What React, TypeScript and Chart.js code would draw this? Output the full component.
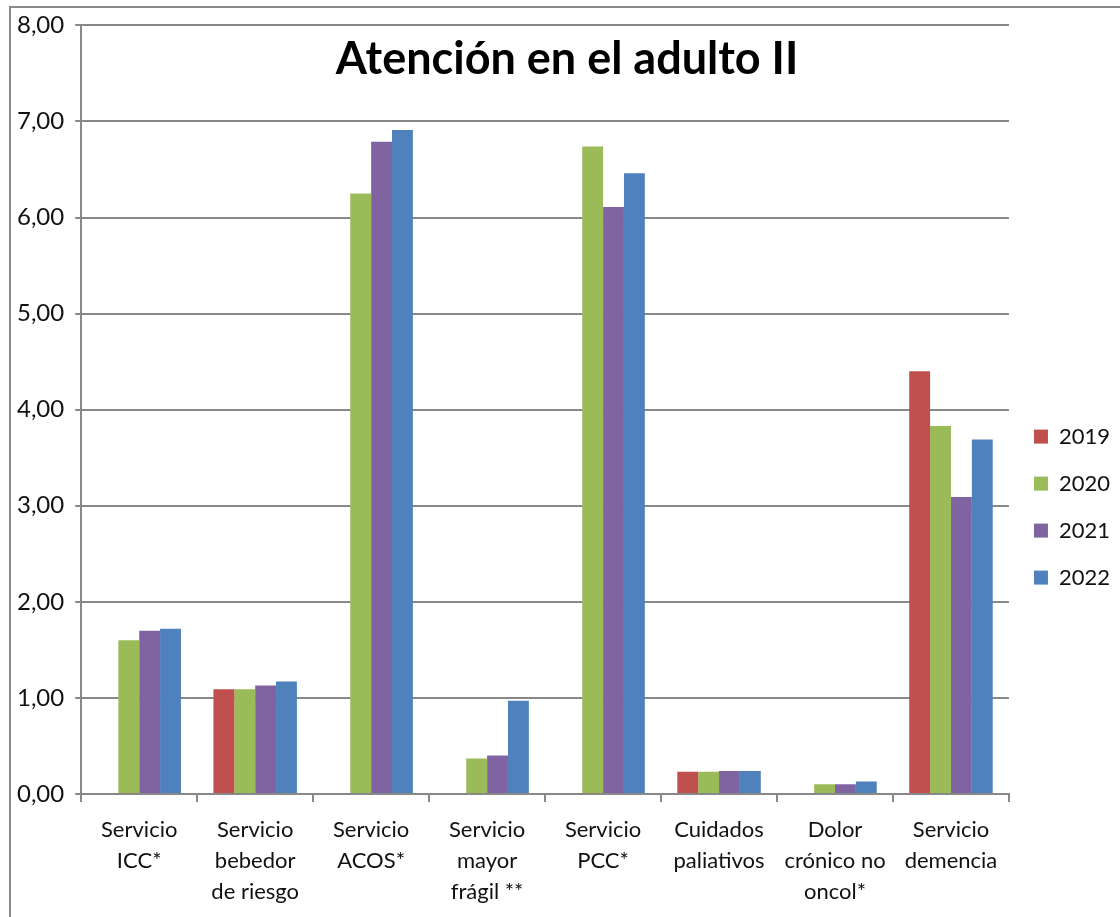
import React, { useEffect, useRef } from "react";
import { Chart, registerables } from "chart.js";

Chart.register(...registerables);

const categories: string[][] = [
  ["Servicio", "ICC*"],
  ["Servicio", "bebedor", "de riesgo"],
  ["Servicio", "ACOS*"],
  ["Servicio", "mayor", "frágil **"],
  ["Servicio", "PCC*"],
  ["Cuidados", "paliativos"],
  ["Dolor", "crónico no", "oncol*"],
  ["Servicio", "demencia"],
];

const years = ["2019", "2020", "2021", "2022"];

const values2019: (number | null)[] = [null, 1.09, null, null, null, 0.23, null, 4.4];
const values2020: (number | null)[] = [1.6, 1.09, 6.25, 0.37, 6.74, 0.23, 0.1, 3.83];
const values2021: (number | null)[] = [1.7, 1.13, 6.79, 0.4, 6.11, 0.24, 0.1, 3.09];
const values2022: (number | null)[] = [1.72, 1.17, 6.91, 0.97, 6.46, 0.24, 0.13, 3.69];

const colors = ["#C0504D", "#9BBB59", "#8064A2", "#4F81BD"];

const titleText = "Atención en el adulto II";

const FONT = "Lato, 'Open Sans', sans-serif";

export default function App() {
  const ref = useRef<HTMLCanvasElement | null>(null);

  useEffect(() => {
    if (!ref.current) return;
    const series = [values2019, values2020, values2021, values2022];

    const framePlugin = {
      id: "frame",
      beforeDraw(chart: any) {
        const ctx = chart.ctx;
        ctx.save();
        ctx.fillStyle = "#ffffff";
        ctx.fillRect(0, 0, chart.width, chart.height);
        ctx.strokeStyle = "#8a8a8a";
        ctx.lineWidth = 2;
        ctx.beginPath();
        ctx.moveTo(10, chart.height);
        ctx.lineTo(10, 7);
        ctx.lineTo(chart.width, 7);
        ctx.stroke();
        ctx.restore();
      },
      afterDraw(chart: any) {
        const ctx = chart.ctx;
        ctx.save();
        ctx.fillStyle = "#000000";
        ctx.font = `bold 45px ${FONT}`;
        ctx.textAlign = "center";
        ctx.textBaseline = "middle";
        ctx.fillText(titleText, 567, 59);
        ctx.restore();
      },
    };

    const chart = new Chart(ref.current, {
      type: "bar",
      data: {
        labels: categories,
        datasets: years.map((y, i) => ({
          label: y,
          data: series[i],
          backgroundColor: colors[i],
          borderWidth: 0,
          categoryPercentage: 0.72,
          barPercentage: 1.0,
        })),
      },
      options: {
        animation: false,
        responsive: false,
        layout: { padding: { left: 6, top: 9, right: 0, bottom: -2 } },
        plugins: {
          title: { display: false },
          tooltip: { enabled: false },
          legend: {
            position: "right",
            align: "center",
            title: { display: true, text: "", font: { size: 1 }, padding: { top: 85, bottom: 0 } },
            labels: {
              boxWidth: 14,
              boxHeight: 14,
              padding: 25,
              color: "#111",
              font: { family: FONT, size: 22 },
            },
          },
        },
        scales: {
          x: {
            grid: {
              display: true,
              drawOnChartArea: false,
              drawTicks: true,
              tickLength: 8,
              color: "#888",
              lineWidth: 2,
              offset: true,
            },
            border: { display: true, color: "#888", width: 2 },
            ticks: {
              color: "#111",
              maxRotation: 0,
              autoSkip: false,
              padding: 12,
              font: { family: FONT, size: 22, lineHeight: 1.41 },
            },
          },
          y: {
            min: 0,
            max: 8,
            grid: { color: "#888", lineWidth: 2, tickLength: 6, drawTicks: true },
            border: { display: true, color: "#888", width: 2 },
            ticks: {
              stepSize: 1,
              color: "#111",
              padding: 11,
              font: { family: FONT, size: 24 },
              callback: (v: any) => Number(v).toFixed(2).replace(".", ","),
            },
          },
        },
      },
      plugins: [framePlugin],
    } as any);

    return () => chart.destroy();
  }, []);

  return (
    <div style={{ position: "absolute", left: 0, top: 0, width: 1120, height: 917 }}>
      <canvas ref={ref} width={1120} height={917} />
    </div>
  );
}
